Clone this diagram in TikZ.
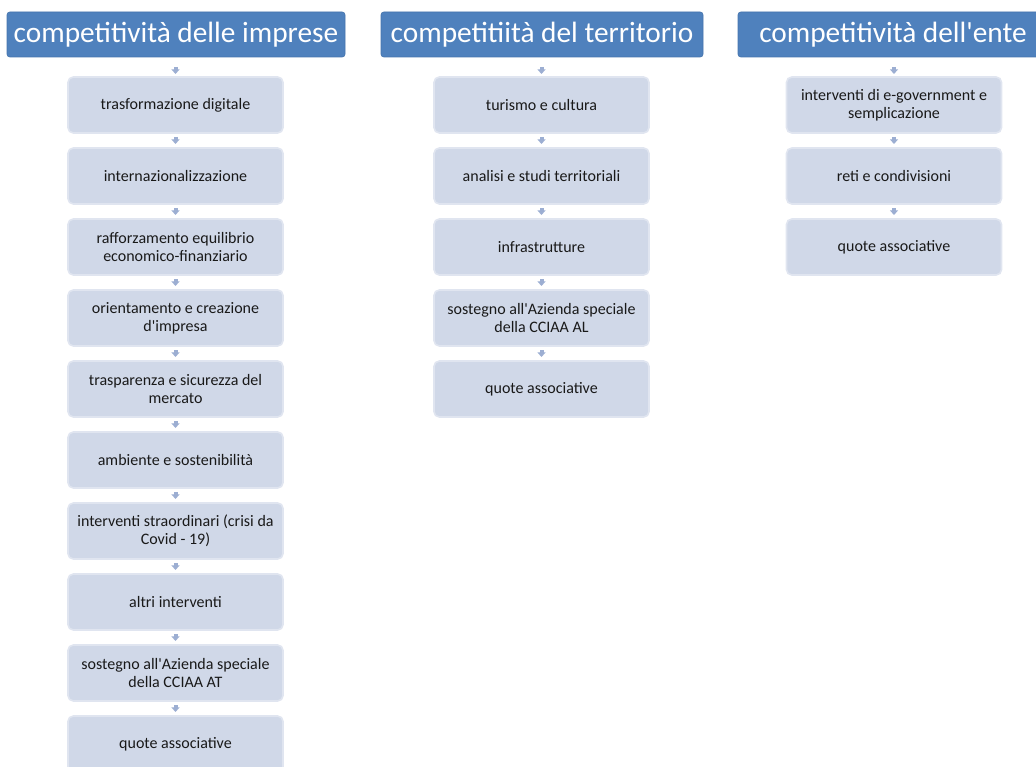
\documentclass[tikz,border=0pt]{standalone}
\usepackage{fontspec}
\setmainfont{Carlito}[Ligatures=TeXOff]
\usepackage{tikz}
\usetikzlibrary{arrows.meta}
\definecolor{headblue}{RGB}{79,129,189}
\definecolor{headrim}{RGB}{70,116,172}
\definecolor{boxfill}{RGB}{208,216,232}
\definecolor{boxrim}{RGB}{224,229,240}
\definecolor{arrowblue}{RGB}{156,174,210}

\begin{document}
\begin{tikzpicture}[x=0.75pt, y=-0.75pt,
  head/.style={draw=headrim, fill=headblue, text=white, rounded corners=2pt, minimum height=33.75pt, inner sep=0pt, outer sep=0pt, font=\fontsize{22}{26}\selectfont},
  item/.style={draw=boxrim, line width=1.2pt, fill=boxfill, rounded corners=4pt, minimum width=161.25pt, minimum height=42pt, inner sep=0pt, outer sep=0pt, align=center, text=black!90, font=\fontsize{12}{13.5}\selectfont},
  link/.style={draw=arrowblue, line width=3pt, -{Triangle[length=3.5pt,width=6pt]}, shorten <=3pt, shorten >=3pt},
  headlink/.style={link, shorten <=7.5pt, shorten >=2.25pt}]
\useasboundingbox (0,0) rectangle (1036,767);
\clip (0,0) rectangle (1036,767);
\node[head, minimum width=253.5pt] (C1H) at (176,34.5) {competitività delle imprese};
\node[head, minimum width=241.5pt] (C2H) at (542,34.5) {competitiità del territorio};
\node[head, minimum width=232.5pt] (C3H) at (893,34.5) {competitività dell'ente};
\node[item] (C1N1) at (175.5,105) {trasformazione digitale};
\node[item] (C1N2) at (175.5,176) {internazionalizzazione};
\node[item] (C1N3) at (175.5,247) {rafforzamento equilibrio\\economico-finanziario};
\node[item] (C1N4) at (175.5,318) {orientamento e creazione\\d'impresa};
\node[item] (C1N5) at (175.5,389) {trasparenza e sicurezza del\\mercato};
\node[item] (C1N6) at (175.5,460) {ambiente e sostenibilità};
\node[item] (C1N7) at (175.5,531) {interventi straordinari (crisi da\\Covid - 19)};
\node[item] (C1N8) at (175.5,602) {altri interventi};
\node[item] (C1N9) at (175.5,673) {sostegno all'Azienda speciale\\della CCIAA AT};
\node[item] (C1N10) at (175.5,744) {quote associative};
\node[item] (C2N1) at (541.5,105) {turismo e cultura};
\node[item] (C2N2) at (541.5,176) {analisi e studi territoriali};
\node[item] (C2N3) at (541.5,247) {infrastrutture};
\node[item] (C2N4) at (541.5,318) {sostegno all'Azienda speciale\\della CCIAA AL};
\node[item] (C2N5) at (541.5,389) {quote associative};
\node[item] (C3N1) at (894,105) {interventi di e-government e\\semplicazione};
\node[item] (C3N2) at (894,176) {reti e condivisioni};
\node[item] (C3N3) at (894,247) {quote associative};
\draw[headlink] (C1H.south -| C1N1) -- (C1N1);
\draw[link] (C1N1) -- (C1N2);
\draw[link] (C1N2) -- (C1N3);
\draw[link] (C1N3) -- (C1N4);
\draw[link] (C1N4) -- (C1N5);
\draw[link] (C1N5) -- (C1N6);
\draw[link] (C1N6) -- (C1N7);
\draw[link] (C1N7) -- (C1N8);
\draw[link] (C1N8) -- (C1N9);
\draw[link] (C1N9) -- (C1N10);
\draw[headlink] (C2H.south -| C2N1) -- (C2N1);
\draw[link] (C2N1) -- (C2N2);
\draw[link] (C2N2) -- (C2N3);
\draw[link] (C2N3) -- (C2N4);
\draw[link] (C2N4) -- (C2N5);
\draw[headlink] (C3H.south -| C3N1) -- (C3N1);
\draw[link] (C3N1) -- (C3N2);
\draw[link] (C3N2) -- (C3N3);
\end{tikzpicture}
\end{document}
